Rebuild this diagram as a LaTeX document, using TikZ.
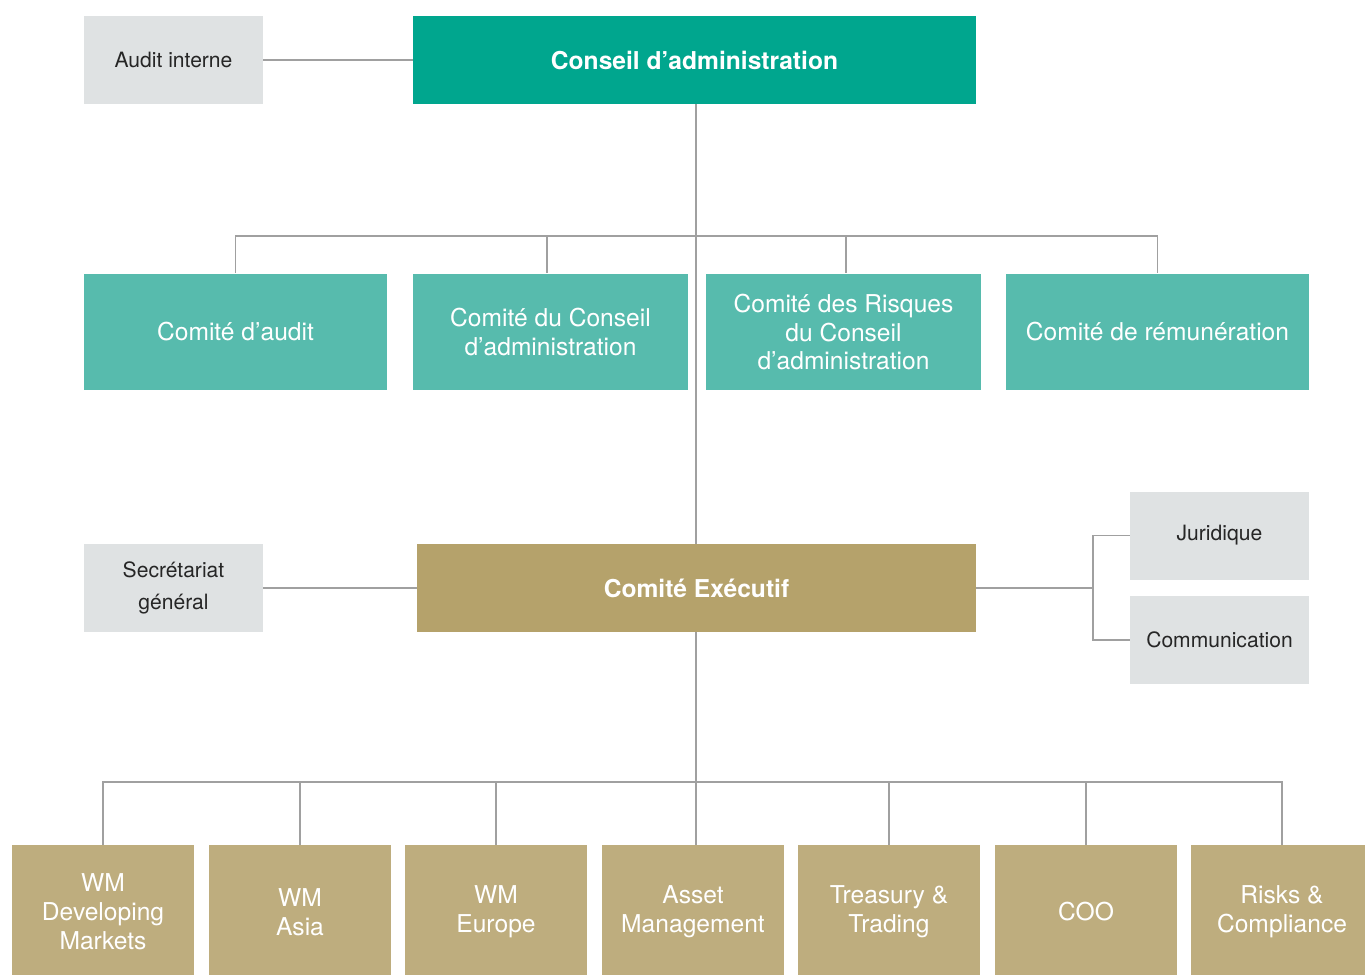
\documentclass[tikz,border=0pt]{standalone}
\usepackage{fontspec}
\setmainfont{TeX Gyre Heros}
\usepackage{tikz}
\usetikzlibrary{positioning,calc}
\definecolor{boardgreen}{HTML}{00A68E}
\definecolor{comgreen}{HTML}{57BBAD}
\definecolor{execgold}{HTML}{B5A26B}
\definecolor{unitgold}{HTML}{BEAD7E}
\definecolor{staffgrey}{HTML}{DFE2E3}
\definecolor{linkgrey}{HTML}{A0A0A0}

\begin{document}
\begin{tikzpicture}[x=0.02cm,y=-0.02cm,
 staff/.style={rectangle,fill=staffgrey,minimum width=3.58cm,minimum height=1.76cm,inner sep=0pt,align=center,text=black!85,font=\fontsize{12}{18}\selectfont},
 board/.style={rectangle,fill=boardgreen,minimum height=1.76cm,inner sep=0pt,align=center,text=white,font=\fontsize{14}{16.4}\selectfont\bfseries},
 exec/.style={board,fill=execgold},
 com/.style={rectangle,fill=comgreen,minimum height=2.34cm,inner sep=0pt,align=center,text=white,font=\fontsize{14}{16.4}\selectfont},
 unit/.style={rectangle,fill=unitgold,minimum width=3.64cm,minimum height=2.68cm,inner sep=0pt,align=center,text=white,font=\fontsize{14}{16.4}\selectfont},
 link/.style={draw=linkgrey,line width=0.7pt}]

\useasboundingbox (0,0) rectangle (1365,974);

% Board level
\node[staff] (audint) at (173.5,60) {Audit interne};
\node[board,minimum width=11.26cm] (conseil) at (694.5,60) {Conseil d’administration};

% Board committees
\node[com,minimum width=6.06cm] (caudit) at (235.5,332) {Comité d’audit};
\node[com,minimum width=5.5cm] (cconseil) at (550.5,332) {Comité du Conseil\\d’administration};
\node[com,minimum width=5.5cm] (crisk) at (843.5,332) {Comité des Risques\\du Conseil\\d’administration};
\node[com,minimum width=6.06cm] (crem) at (1157.5,332) {Comité de rémunération};

% Executive level
\node[staff] (secgen) at (173.5,588) {Secrétariat\\général};
\node[exec,minimum width=11.18cm] (comex) at (696.5,588) {Comité Exécutif};
\node[staff] (jurid) at (1219.5,535.5) {Juridique};
\node[staff] (commu) at (1219.5,640) {Communication};

% Business lines
\node[unit] (wmdm) at (103,912) {WM\\Developing\\Markets};
\node[unit] (wmasia) at (300,912) {WM\\Asia};
\node[unit] (wmeur) at (496,912) {WM\\Europe};
\node[unit] (asset) at (693,912) {Asset\\Management};
\node[unit] (treas) at (889,912) {Treasury \&\\Trading};
\node[unit] (coo) at (1086,912) {COO};
\node[unit] (risks) at (1282,912) {Risks \&\\Compliance};

% Connectors
\coordinate (trunk) at (696,236);
\coordinate (fork) at (1093,588);
\coordinate (bus) at (696,782);

\draw[link] (audint) -- (conseil);
\draw[link] (conseil.south -| trunk) -- (comex.north -| trunk);
\draw[link] (caudit.north) |- (trunk) -| (crem.north);
\draw[link] ([xshift=-0.07cm]cconseil.north) -- ([xshift=-0.07cm]cconseil.north |- trunk);
\draw[link] ([xshift=0.05cm]crisk.north) -- ([xshift=0.05cm]crisk.north |- trunk);

\draw[link] (secgen) -- (comex);
\draw[link] (comex) -- (fork);
\draw[link] (jurid.west) -| (fork) |- (commu.west);

\draw[link] (comex.south -| bus) -- (asset.north -| bus);
\draw[link] (wmdm.north) |- (bus) -| (risks.north);
\foreach \u in {wmasia,wmeur,treas,coo}
 \draw[link] (\u.north) -- (\u.north |- bus);
\end{tikzpicture}
\end{document}
